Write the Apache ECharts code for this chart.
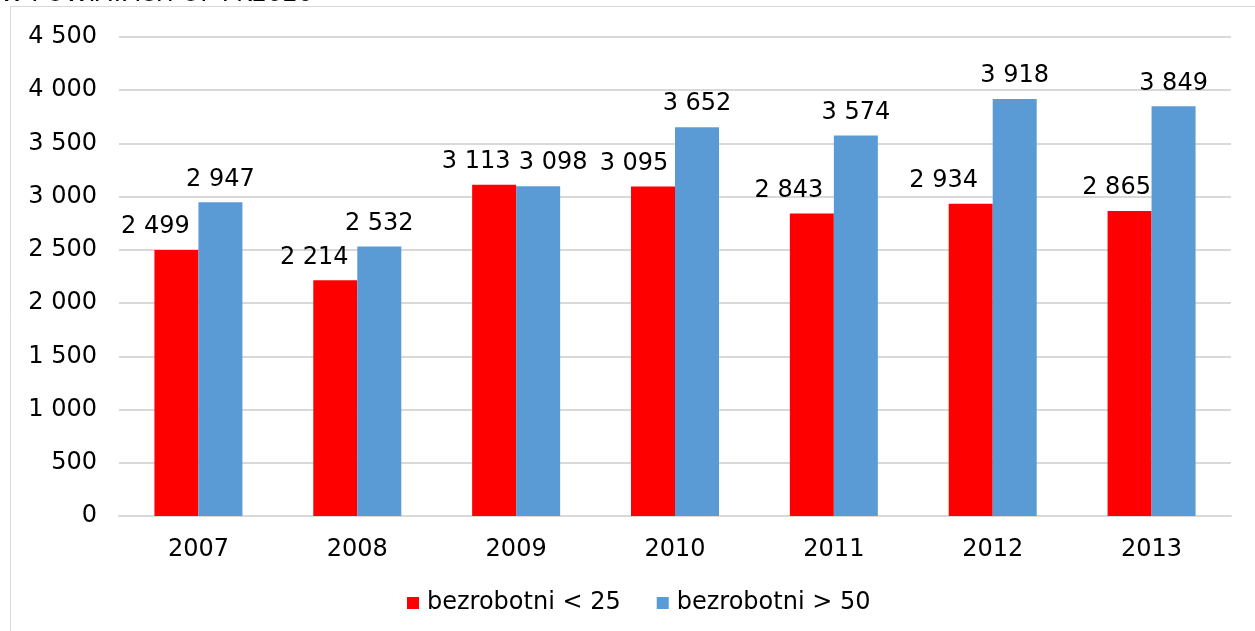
<!DOCTYPE html>
<html>
<head>
<meta charset="utf-8">
<script src="https://cdn.jsdelivr.net/npm/echarts@6/dist/echarts.min.js"></script>
<style>
    html, body { margin: 0; padding: 0; background: #fff; }
    #chart { width: 1255px; height: 631px; }
</style>
</head>
<body>
<div id="chart"></div>
<script>
const years = ["2007", "2008", "2009", "2010", "2011", "2012", "2013"];
const under25 = [2499, 2214, 3113, 3095, 2843, 2934, 2865];
const over50 = [2947, 2532, 3098, 3652, 3574, 3918, 3849];
const seriesNames = ["bezrobotni < 25", "bezrobotni > 50"];

// horizontal nudges of the value labels, as placed in the original (px)
const under25Nudge = [-21, -21, -18, -19, -23, -27, -13];
const over50Nudge = [0, 0, 15, 0, 0, 0, 0];

const FONT = "DejaVu Sans";
const FS = 24;

function spaced(n) {
    return String(n).replace(/\B(?=(\d{3})+(?!\d))/g, " ");
}

function withNudge(values, nudges) {
    return values.map((v, i) => ({ value: v, label: { offset: [nudges[i], 0] } }));
}

const chart = echarts.init(document.getElementById("chart"));

chart.setOption({
    animation: false,
    textStyle: { fontFamily: FONT },
    graphic: [
        {
            type: "rect",
            shape: { x: 10.5, y: 6.5, width: 1260, height: 640 },
            style: { fill: "none", stroke: "#d9d9d9", lineWidth: 1 },
        },
        {
            type: "text",
            left: 0,
            top: -17,
            style: {
                text: "W POWIATACH OF PK2020",
                font: FS + "px " + FONT,
                fill: "#000",
            },
        },
    ],
    grid: { left: 119, right: 24, top: 37, bottom: 115 },
    legend: {
        bottom: 11,
        left: 402,
        itemWidth: 12,
        itemHeight: 12,
        itemGap: 36,
        icon: "rect",
        textStyle: { fontSize: FS, color: "#000", fontFamily: FONT, padding: [0, 0, 0, 3] },
        data: seriesNames,
    },
    xAxis: {
        type: "category",
        data: years,
        axisLine: { lineStyle: { color: "#d9d9d9", width: 2 } },
        axisTick: { show: false },
        axisLabel: { fontSize: FS, color: "#000", margin: 22 },
    },
    yAxis: {
        type: "value",
        min: 0,
        max: 4500,
        interval: 500,
        axisLine: { show: false },
        axisTick: { show: false },
        axisLabel: { fontSize: FS, color: "#000", margin: 22, formatter: spaced },
        splitLine: { lineStyle: { color: "#d9d9d9", width: 2 } },
    },
    series: [
        {
            name: seriesNames[0],
            type: "bar",
            data: withNudge(under25, under25Nudge),
            barWidth: 44,
            barGap: "0%",
            itemStyle: { color: "#ff0000" },
            label: {
                show: true,
                position: "top",
                distance: 11,
                fontSize: FS,
                color: "#000",
                formatter: (p) => spaced(p.value),
            },
        },
        {
            name: seriesNames[1],
            type: "bar",
            data: withNudge(over50, over50Nudge),
            barWidth: 44,
            barGap: "0%",
            itemStyle: { color: "#5b9bd5" },
            label: {
                show: true,
                position: "top",
                distance: 11,
                fontSize: FS,
                color: "#000",
                formatter: (p) => spaced(p.value),
            },
        },
    ],
});
</script>
</body>
</html>
